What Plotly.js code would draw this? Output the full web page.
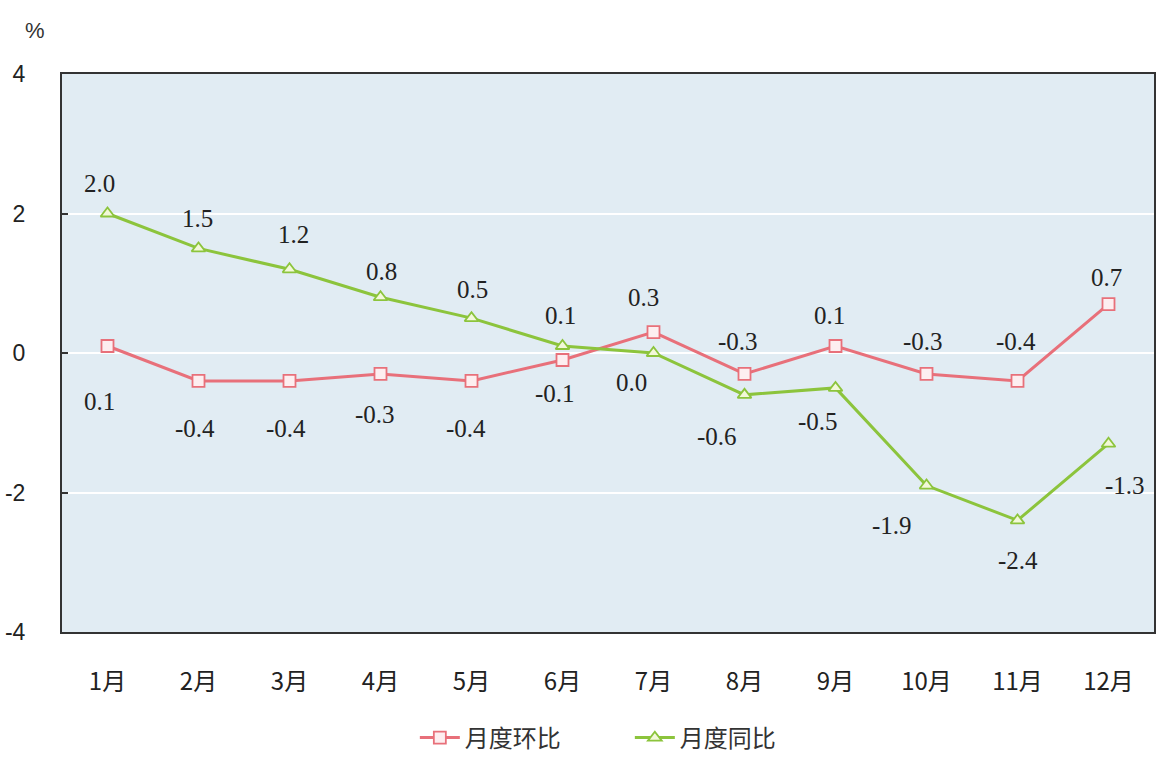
<!DOCTYPE html>
<html>
<head>
<meta charset="utf-8">
<script src="https://cdn.plot.ly/plotly-3.0.1.min.js"></script>
<style>html,body{margin:0;padding:0;background:#fff;}#chart{width:1157px;height:763px;}</style>
</head>
<body>
<div id="chart"></div>
<script>
// ---- data ----
const months = ["1月","2月","3月","4月","5月","6月","7月","8月","9月","10月","11月","12月"];
const momValues = [0.1, -0.4, -0.4, -0.3, -0.4, -0.1, 0.3, -0.3, 0.1, -0.3, -0.4, 0.7];   // 月度环比
const yoyValues = [2.0, 1.5, 1.2, 0.8, 0.5, 0.1, 0.0, -0.6, -0.5, -1.9, -2.4, -1.3];      // 月度同比
const seriesNames = ["月度环比", "月度同比"];
const yTicks = [-4, -2, 0, 2, 4];

// ---- label placement (style, pixel offsets) ----
const momDx = [-8, -4, -4, -6, -6, -8, -10, -7, -6, -4, -2, -2];
const momDy = [-55, -48, -48, -41, -48, -34, 35, 32, 31, 32, 39, 27];
const yoyDx = [-8, -1, 4, 1, 1, -2, -22, -28, -18, -35, 0, 16];
const yoyDy = [30, 30, 35, 26, 29, 31, -29, -42, -34, -40, -40, -42];

const xIdx = months.map((m, i) => i);
const red = "#e8707a", green = "#8cc43c";

const traces = [
  {x: xIdx, y: momValues, name: seriesNames[0], type: "scatter", mode: "lines+markers",
   line: {color: red, width: 3},
   marker: {symbol: "square", size: 12, color: "#fdeef0", line: {color: red, width: 1.8}}},
  {x: xIdx, y: yoyValues, name: seriesNames[1], type: "scatter", mode: "lines+markers",
   line: {color: green, width: 3},
   marker: {symbol: "triangle-up", size: 12, color: "#f2f8d8", line: {color: green, width: 1.8}}}
];

const labelFont = {family: "Liberation Serif, Times New Roman, serif", size: 25, color: "#222"};
const annotations = [];
momValues.forEach((v, i) => annotations.push({x: i, y: v, xref: "x", yref: "y", text: v.toFixed(1),
  showarrow: false, xshift: momDx[i], yshift: momDy[i], font: labelFont}));
yoyValues.forEach((v, i) => annotations.push({x: i, y: v, xref: "x", yref: "y", text: v.toFixed(1),
  showarrow: false, xshift: yoyDx[i], yshift: yoyDy[i], font: labelFont}));
annotations.push({xref: "paper", yref: "paper", x: -0.025, y: 1.078, xanchor: "center", yanchor: "middle",
  text: "%", showarrow: false,
  font: {family: "Liberation Sans, Arial, sans-serif", size: 22, color: "#333"}});

const layout = {
  width: 1157, height: 763,
  margin: {l: 62, r: 3, t: 74, b: 125},
  paper_bgcolor: "#ffffff",
  plot_bgcolor: "#e1ecf3",
  showlegend: true,
  legend: {orientation: "h", x: 0.52, xanchor: "center", y: -0.19, yanchor: "middle",
    font: {family: "Noto Sans CJK SC, sans-serif", size: 24, color: "#333"},
    itemwidth: 40, entrywidth: 160, tracegroupgap: 0},
  xaxis: {range: [-0.5, 11.5], tickmode: "array", tickvals: xIdx, ticktext: months,
    showgrid: false, zeroline: false, showline: true, linecolor: "#333", linewidth: 2, mirror: true,
    ticks: "", ticklabelstandoff: 27,
    tickfont: {family: "Noto Sans CJK SC, sans-serif", size: 24, color: "#222"}},
  yaxis: {range: [-4, 4], tickmode: "array", tickvals: yTicks, ticktext: yTicks.map(String),
    showgrid: true, gridcolor: "#ffffff", gridwidth: 2, zeroline: false,
    showline: true, linecolor: "#333", linewidth: 2, mirror: true,
    ticks: "inside", ticklen: 6, tickcolor: "#333", tickwidth: 2, ticklabelstandoff: 30,
    tickfont: {family: "Liberation Sans, Arial, sans-serif", size: 23, color: "#222"}},
  annotations: annotations
};

Plotly.newPlot("chart", traces, layout, {displayModeBar: false, staticPlot: true});
</script>
</body>
</html>
